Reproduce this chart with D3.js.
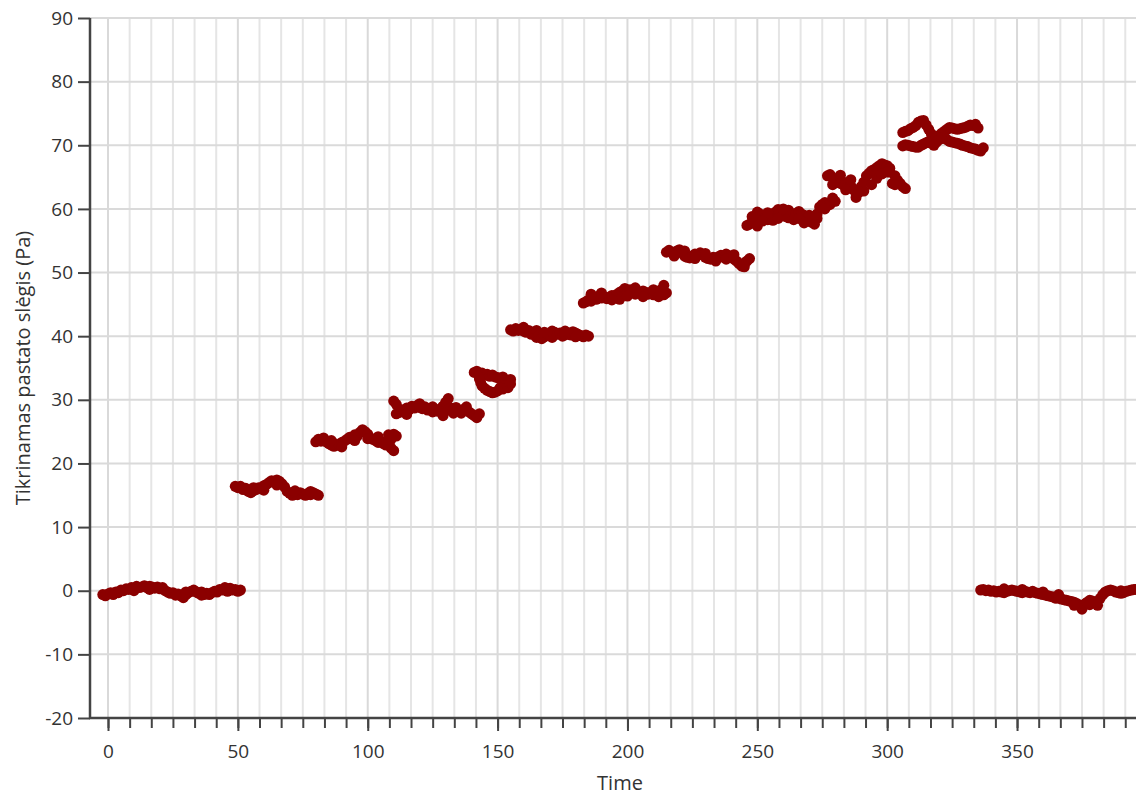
<!DOCTYPE html>
<html>
<head>
<meta charset="utf-8">
<script src="https://cdn.jsdelivr.net/npm/d3@7"></script>
<style>
  html, body { margin: 0; padding: 0; background: #fff; }
  svg { display: block; font-family: "Open Sans", "Noto Sans", sans-serif; }
</style>
</head>
<body>
<div id="chart"></div>
<script>
// --- data: [time, pressure], one array per pressure step ---
const step0 = [[-2, -0.6], [-1, -0.8], [0, -0.5], [1, -0.3], [2, -0.6], [3, -0.2], [4, -0.3], [5, 0.1], [6, 0.0],
  [7, 0.3], [8, 0.2], [9, 0.5], [10, 0.4], [11, 0.7], [12, 0.5], [13, 0.6], [14, 0.8], [15, 0.5], [16, 0.7],
  [17, 0.6], [18, 0.4], [19, 0.6], [20, 0.3], [21, 0.5], [22, 0.0], [23, -0.2], [24, -0.4], [25, -0.3],
  [26, -0.7], [27, -0.5], [28, -0.8], [29, -1.1], [30, -0.6], [31, -0.3], [32, -0.1], [33, 0.1], [34, -0.2],
  [35, -0.4], [36, -0.2], [37, -0.6], [38, -0.4], [39, -0.6], [40, -0.3], [41, -0.1], [42, -0.2], [43, 0.2],
  [44, 0.1], [45, 0.5], [46, 0.3], [47, 0.4], [48, 0.1], [49, 0.2], [50, -0.1], [51, 0.1],
  [10, 0.0], [16, 0.2], [30, -0.2], [36, -0.7], [46, -0.1]]
const step1 = [[49, 16.4], [50, 16.2], [51, 16.4], [52, 15.9], [53, 16.1], [54, 15.6], [55, 15.4], [56, 15.7],
  [57, 15.9], [58, 16.2], [59, 16.0], [60, 16.5], [61, 16.7], [62, 17.0], [63, 17.3], [64, 17.1], [65, 17.4],
  [66, 17.2], [67, 16.8], [68, 16.3], [69, 15.6], [70, 15.3], [71, 15.0], [72, 15.3], [73, 15.1], [74, 15.4],
  [75, 15.2], [76, 15.0], [77, 15.3], [78, 15.1], [79, 15.4], [80, 15.2], [81, 15.0],
  [56, 16.2], [60, 15.8], [65, 16.6], [72, 15.7], [78, 15.6]]
const step2 = [[80, 23.4], [81, 23.8], [82, 23.5], [83, 24.0], [84, 23.4], [85, 23.1], [86, 22.9], [87, 22.7],
  [88, 23.0], [89, 22.9], [90, 23.3], [91, 23.5], [92, 23.8], [93, 24.1], [94, 24.0], [95, 24.5], [96, 24.3],
  [97, 24.9], [98, 25.3], [99, 25.0], [100, 24.6], [101, 24.0], [102, 23.8], [103, 23.6], [104, 23.3],
  [105, 23.5], [106, 23.1], [107, 22.9], [108, 23.2], [109, 22.4], [110, 22.0], [110, 24.6], [111, 24.3],
  [109, 23.8], [108, 24.5], [86, 23.6], [90, 22.6], [95, 23.6], [100, 23.9], [104, 24.2]]
const step3 = [[110, 29.8], [111, 29.3], [111, 27.8], [112, 28.0], [113, 28.4], [114, 28.2], [115, 28.7],
  [116, 28.5], [117, 29.0], [118, 28.7], [119, 29.1], [120, 28.8], [121, 28.6], [122, 28.9], [123, 28.4],
  [124, 28.6], [125, 28.1], [126, 28.4], [127, 28.2], [128, 28.6], [129, 29.0], [129, 27.5], [130, 29.6],
  [131, 30.2], [131, 28.4], [132, 28.7], [133, 28.5], [134, 28.8], [135, 28.4], [136, 28.2], [137, 28.5],
  [138, 28.3], [139, 28.1], [140, 27.8], [141, 27.5], [142, 27.2], [143, 27.8], [136, 27.9],
  [115, 27.7], [120, 29.4], [125, 28.9], [133, 27.9], [138, 28.9]]
const step4 = [[141, 34.3], [142, 34.5], [143, 34.1], [144, 34.2], [145, 33.9], [146, 34.0], [147, 33.7],
  [148, 33.9], [149, 33.6], [150, 33.5], [151, 33.3], [152, 33.6], [153, 33.1], [154, 32.8], [155, 32.5],
  [155, 33.2], [154, 31.9], [153, 32.2], [152, 31.7], [151, 31.9], [150, 31.4], [149, 31.2], [148, 31.1],
  [147, 31.3], [146, 31.5], [145, 31.8], [144, 32.2], [143.5, 32.7], [143, 33.3]]
const step5 = [[155, 41.0], [156, 40.8], [157, 41.2], [158, 40.9], [159, 41.1], [160, 40.8], [161, 40.6],
  [162, 40.9], [163, 40.3], [164, 40.5], [165, 39.8], [165, 40.9], [166, 40.1], [167, 39.6], [168, 39.9],
  [169, 40.3], [170, 40.1], [171, 40.8], [171, 39.8], [172, 40.6], [173, 40.3], [174, 40.5], [175, 40.0],
  [176, 40.2], [177, 40.5], [178, 40.2], [179, 40.7], [180, 40.5], [181, 40.3], [182, 40.1], [183, 39.9],
  [184, 40.2], [185, 40.0], [160, 41.4], [168, 40.6], [176, 40.8], [180, 39.9]]
const step6 = [[183, 45.2], [184, 45.4], [185, 45.7], [186, 45.5], [187, 46.0], [188, 45.8], [189, 46.3],
  [190, 46.0], [191, 46.2], [192, 45.9], [193, 46.1], [194, 46.4], [195, 46.2], [196, 46.6], [197, 46.9],
  [197, 45.8], [198, 47.1], [199, 47.5], [200, 47.0], [201, 47.3], [202, 46.9], [203, 46.6], [203, 47.6],
  [204, 47.0], [205, 46.8], [206, 47.1], [207, 46.9], [208, 46.6], [209, 46.9], [210, 46.5], [211, 46.7],
  [212, 47.0], [213, 47.3], [214, 48.0], [215, 46.8], [214, 46.5],
  [186, 46.6], [190, 46.8], [194, 45.7], [200, 46.3], [206, 46.2], [210, 47.3], [212, 46.2]]
const step7 = [[215, 53.2], [216, 53.5], [217, 53.2], [218, 53.0], [219, 53.4], [220, 53.6], [221, 53.1],
  [222, 52.6], [222, 53.4], [223, 52.4], [224, 52.3], [225, 52.6], [226, 52.9], [227, 52.7], [228, 53.1],
  [229, 52.8], [230, 52.4], [231, 52.2], [232, 52.1], [233, 52.4], [234, 52.2], [235, 52.5], [236, 52.7],
  [237, 52.4], [238, 52.9], [239, 52.6], [240, 52.4], [241, 52.1], [242, 51.8], [243, 51.4], [244, 51.0],
  [245, 51.5], [246, 51.8], [247, 52.2],
  [218, 52.6], [226, 52.2], [230, 53.0], [234, 51.8], [238, 52.1], [241, 52.8], [245, 50.9]]
const step8 = [[246, 57.4], [247, 57.6], [248, 57.9], [249, 58.6], [250, 59.5], [250, 57.3], [251, 59.2],
  [252, 59.0], [253, 58.6], [254, 58.3], [255, 58.8], [256, 59.2], [256, 58.2], [257, 59.5], [258, 59.9],
  [259, 59.4], [260, 59.1], [261, 58.8], [262, 58.6], [262, 59.8], [263, 59.3], [264, 59.0], [265, 59.3],
  [266, 59.6], [267, 59.2], [268, 59.0], [269, 58.6], [270, 58.2], [271, 57.9], [272, 57.6], [273, 58.5],
  [273, 59.2], [274, 60.3], [275, 60.7], [276, 61.0], [277, 60.5], [278, 60.7], [279, 61.7], [280, 61.2],
  [248, 58.8], [252, 58.1], [254, 59.4], [258, 58.5], [260, 60.0], [264, 58.3], [266, 58.5], [270, 59.0],
  [268, 57.8], [276, 60.0]]
const step9 = [[277, 65.2], [278, 65.4], [279, 64.9], [280, 64.6], [281, 64.3], [282, 65.3], [282, 64.0],
  [283, 63.8], [284, 64.1], [285, 64.2], [286, 63.6], [287, 63.0], [288, 61.8], [289, 62.6], [290, 63.5],
  [291, 62.8], [291, 64.2], [292, 65.2], [293, 65.6], [294, 66.0], [294, 63.8], [295, 66.2], [296, 66.5],
  [297, 66.8], [298, 67.1], [299, 66.9], [300, 66.8], [301, 65.8], [301, 66.4], [302, 64.0], [303, 65.2],
  [304, 64.5], [305, 64.0], [306, 63.5], [307, 63.2],
  [279, 63.8], [284, 63.0], [286, 64.6], [296, 64.8], [298, 65.5], [300, 65.8], [303, 63.8]]
const step10Upper = [[306, 72.0], [307, 72.2], [308, 72.3], [309, 72.6], [310, 72.8], [311, 73.1], [312, 73.6],
  [313, 73.8], [314, 73.9], [315, 73.2], [316, 72.5], [317, 71.8], [318, 71.3], [319, 71.4], [320, 71.5],
  [321, 71.9], [322, 72.2], [323, 72.5], [324, 72.8], [325, 72.7], [326, 72.6], [327, 72.5], [328, 72.6],
  [329, 72.7], [330, 72.8], [331, 73.0], [332, 73.2], [333, 73.1], [334, 73.3], [335, 72.7]]
const step10Lower = [[306, 69.9], [307, 70.1], [308, 70.0], [309, 69.9], [310, 69.8], [311, 69.7], [312, 69.7],
  [313, 70.0], [314, 70.2], [315, 70.4], [316, 70.6], [317, 70.3], [318, 70.0], [319, 70.5], [320, 70.9],
  [321, 71.1], [322, 71.3], [323, 70.9], [324, 70.6], [325, 70.5], [326, 70.4], [327, 70.3], [328, 70.2],
  [329, 70.0], [330, 69.9], [331, 69.8], [332, 69.6], [333, 69.5], [334, 69.4], [335, 69.2], [336, 69.1],
  [337, 69.6]]
const step11 = [[336, 0.1], [337, 0.2], [338, 0.0], [339, 0.1], [340, -0.1], [341, 0.0], [342, -0.2],
  [343, -0.1], [344, -0.2], [345, -0.3], [346, -0.1], [347, 0.0], [348, 0.1], [349, 0.0], [350, -0.1],
  [351, -0.2], [352, -0.3], [353, -0.1], [354, -0.2], [355, -0.3], [356, -0.1], [357, -0.3], [358, -0.4],
  [359, -0.5], [360, -0.6], [361, -0.7], [362, -0.8], [363, -0.9], [364, -1.0], [365, -1.2], [366, -1.1],
  [367, -1.3], [368, -1.4], [369, -1.5], [370, -1.6], [371, -1.7], [372, -1.8], [373, -2.0], [374, -2.3],
  [375, -2.9], [375, -2.4], [376, -2.1], [377, -1.8], [378, -1.5], [379, -1.6], [380, -1.9], [381, -2.3],
  [382, -1.2], [383, -0.6], [384, -0.2], [385, 0.0], [386, 0.1], [387, 0.0], [388, -0.2], [389, -0.3],
  [390, -0.4], [391, -0.3], [392, -0.1], [393, 0.0], [394, 0.1], [395, 0.2], [396, 0.2],
  [345, 0.3], [352, 0.2], [360, -0.2], [366, -0.6], [372, -2.3], [378, -2.2], [390, 0.0]]

const yTicks = [-20, -10, 0, 10, 20, 30, 40, 50, 60, 70, 80, 90]
const xTicks = [0, 50, 100, 150, 200, 250, 300, 350]
const yTitle = 'Tikrinamas pastato slėgis (Pa)'
const xTitle = 'Time'

const points = [step0, step1, step2, step3, step4, step5, step6, step7, step8, step9,
  step10Upper, step10Lower, step11].flat()

// --- layout ---
const width = 1136
const height = 796
const plotLeft = 90, plotRight = 1136, plotTop = 18, plotBottom = 718

const x = d3.scaleLinear().domain([-6.93, 395.8]).range([plotLeft, plotRight])
const y = d3.scaleLinear().domain([-20, 90]).range([plotBottom, plotTop])

const minorTicks = d3.range(0, 396, 50 / 6)

const svg = d3.select('#chart').append('svg')
  .attr('width', width)
  .attr('height', height)

// --- grid ---
const grid = svg.append('g')
grid.selectAll('line.vgrid')
  .data(minorTicks)
  .join('line')
    .attr('class', 'vgrid')
    .attr('x1', d => x(d)).attr('x2', d => x(d))
    .attr('y1', plotTop).attr('y2', plotBottom)
    .attr('stroke', (d, i) => i % 6 === 0 ? '#d9d9d9' : '#e5e5e5')
    .attr('stroke-width', 2)

grid.selectAll('line.hgrid')
  .data(yTicks)
  .join('line')
    .attr('class', 'hgrid')
    .attr('x1', plotLeft).attr('x2', plotRight)
    .attr('y1', d => y(d)).attr('y2', d => y(d))
    .attr('stroke', '#dadada')
    .attr('stroke-width', 2)

// --- points ---
svg.append('g')
    .attr('fill', '#8b0000')
  .selectAll('circle')
  .data(points)
  .join('circle')
    .attr('cx', d => x(d[0]))
    .attr('cy', d => y(d[1]))
    .attr('r', 5.5)

// --- axes ---
const yAxis = svg.append('g')
  .attr('transform', `translate(${plotLeft},0)`)
  .call(d3.axisLeft(y).tickValues(yTicks).tickSize(12).tickPadding(5).tickFormat(d => String(d)))
yAxis.select('.domain').remove()
yAxis.selectAll('.tick line').attr('stroke', '#444').attr('stroke-width', 2)

const xMinor = svg.append('g')
  .attr('transform', `translate(0,${plotBottom})`)
  .call(d3.axisBottom(x).tickValues(minorTicks).tickSize(10).tickFormat(''))
xMinor.select('.domain').remove()
xMinor.selectAll('.tick line').attr('stroke', '#444').attr('stroke-width', 2)

const xAxis = svg.append('g')
  .attr('transform', `translate(0,${plotBottom})`)
  .call(d3.axisBottom(x).tickValues(xTicks).tickSize(13).tickPadding(14).tickFormat(d => String(d)))
xAxis.select('.domain').remove()
xAxis.selectAll('.tick line').attr('stroke', '#444').attr('stroke-width', 2)

svg.selectAll('.tick text')
  .attr('fill', '#333')
  .style('font-size', '19px')
  .style('font-family', '"Open Sans", "Noto Sans", sans-serif')

// axis lines
svg.append('line')
  .attr('x1', plotLeft).attr('x2', plotLeft)
  .attr('y1', plotTop).attr('y2', plotBottom + 1)
  .attr('stroke', '#444').attr('stroke-width', 2.5)
svg.append('line')
  .attr('x1', plotLeft - 1).attr('x2', plotRight)
  .attr('y1', plotBottom).attr('y2', plotBottom)
  .attr('stroke', '#444').attr('stroke-width', 2.5)

// --- titles ---
svg.append('text')
  .attr('transform', `translate(30,${(plotTop + plotBottom) / 2}) rotate(-90)`)
  .attr('text-anchor', 'middle')
  .attr('fill', '#333')
  .style('font-size', '20px')
  .text(yTitle)

svg.append('text')
  .attr('x', 620)
  .attr('y', 790)
  .attr('text-anchor', 'middle')
  .attr('fill', '#333')
  .style('font-size', '20px')
  .text(xTitle)
</script>
</body>
</html>
